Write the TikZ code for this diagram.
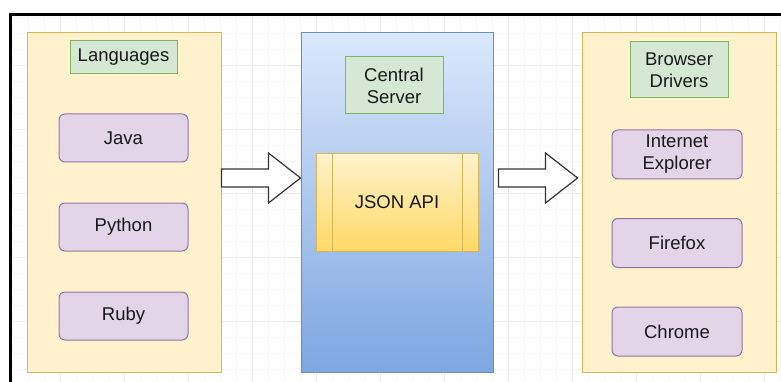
\documentclass[tikz,border=0pt]{standalone}
\usepackage{fontspec}
\setmainfont{Liberation Sans}
\usetikzlibrary{calc}

\definecolor{yellowfill}{HTML}{FFF2CC}
\definecolor{yellowline}{HTML}{D6B656}
\definecolor{greenfill}{HTML}{D5E8D4}
\definecolor{greenline}{HTML}{82B366}
\definecolor{purplefill}{HTML}{E1D5E7}
\definecolor{purpleline}{HTML}{9673A6}
\definecolor{bluetop}{HTML}{DAE8FC}
\definecolor{bluebottom}{HTML}{7EA6E0}
\definecolor{blueline}{HTML}{6C8EBF}
\definecolor{apibottom}{HTML}{FFD966}
\definecolor{arrowline}{HTML}{333333}

\tikzset{
    every node/.style={font=\fontsize{18.5}{22}\selectfont, text=black!90, inner sep=0pt, align=center},
    container/.style={draw=yellowline, fill=yellowfill, line width=1pt},
    title/.style={draw=greenline, fill=greenfill, line width=1pt},
    item/.style={draw=purpleline, fill=purplefill, line width=1pt, rounded corners=6pt},
    bigarrow/.style={draw=arrowline, fill=white, line width=1.2pt, line join=miter},
}

\begin{document}
\begin{tikzpicture}[x=1pt, y=-1pt]
        \useasboundingbox (0,0) rectangle (781,382);
        \fill[white] (0,0) rectangle (781,382);
        % background grid
        \begin{scope}
        \clip (10,14.5) rectangle (781,382);
        \foreach \x in {12,28,...,780} \draw[black!3, line width=0.6pt] (\x,0) -- (\x,382);
        \foreach \y in {1,17,...,382} \draw[black!3, line width=0.6pt] (0,\y) -- (781,\y);
        \foreach \x in {60,124,...,780} \draw[black!8, line width=0.8pt] (\x,0) -- (\x,382);
        \foreach \y in {1,65,...,382} \draw[black!8, line width=0.8pt] (0,\y) -- (781,\y);
        \end{scope}
        \begin{scope}
        \clip (0,0) rectangle (781,382);
        \draw[line width=3pt] (10,14.5) rectangle (800,400);
        \end{scope}

        % languages
        \node[container, minimum width=194pt, minimum height=339pt] (lang) at (124, 202.5) {};
        \node[title, minimum width=107pt, minimum height=33pt] (langtitle) at (123.5, 57.5) {Languages};
        \node[item, minimum width=129pt, minimum height=48pt] (java) at (123.5, 138) {Java};
        \node[item, minimum width=129pt, minimum height=48pt] (python) at (123.5, 227) {Python};
        \node[item, minimum width=129pt, minimum height=48pt] (ruby) at (123.5, 316) {Ruby};

        % central server
        \node[draw=blueline, top color=bluetop, bottom color=bluebottom, line width=1pt,
              minimum width=192pt, minimum height=339pt] (server) at (397, 202.5) {};
        \node[title, minimum width=98pt, minimum height=57pt] (servertitle) at (394, 85.5) {Central\\Server};
        \node[draw=yellowline, top color=yellowfill, bottom color=apibottom, line width=1pt,
              minimum width=162pt, minimum height=97pt] (api) at (397, 202.5) {JSON API};
        \draw[yellowline, line width=1pt] ($(api.north west)+(17,0)$) -- ($(api.south west)+(17,0)$);
        \draw[yellowline, line width=1pt] ($(api.north east)+(-16,0)$) -- ($(api.south east)+(-16,0)$);

        % browser drivers
        \node[container, minimum width=194pt, minimum height=339pt] (browser) at (679, 202.5) {};
        \node[title, minimum width=98pt, minimum height=56pt] (browsertitle) at (679, 70) {Browser\\Drivers};
        \node[item, minimum width=130pt, minimum height=49pt] (ie) at (677, 154.5) {Internet\\Explorer};
        \node[item, minimum width=130pt, minimum height=49pt] (firefox) at (677, 243) {Firefox};
        \node[item, minimum width=130pt, minimum height=49pt] (chrome) at (677, 331.5) {Chrome};

        % block arrows
        \coordinate (leftfrom) at (lang.east |- 0,178);
        \coordinate (leftto) at (server.west |- 0,178);
        \coordinate (rightfrom) at ($(server.east |- 0,178)+(5,0)$);
        \coordinate (rightto) at ($(browser.west |- 0,178)+(-4,0)$);
        \draw[bigarrow] ($(leftfrom)+(0,-9)$) -- ($(leftto)+(-32,-9)$) -- ($(leftto)+(-32,-25)$) -- (leftto)
            -- ($(leftto)+(-32,25)$) -- ($(leftto)+(-32,9)$) -- ($(leftfrom)+(0,9)$) -- cycle;
        \draw[bigarrow] ($(rightfrom)+(0,-9)$) -- ($(rightto)+(-32,-9)$) -- ($(rightto)+(-32,-25)$) -- (rightto)
            -- ($(rightto)+(-32,25)$) -- ($(rightto)+(-32,9)$) -- ($(rightfrom)+(0,9)$) -- cycle;
    \end{tikzpicture}
\end{document}
